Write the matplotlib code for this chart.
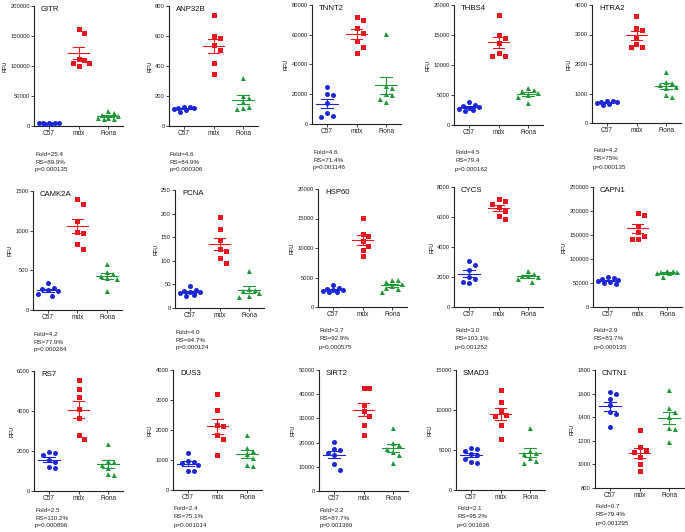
import matplotlib
matplotlib.use('Agg')
import matplotlib.pyplot as plt
import numpy as np

plt.rcParams['font.family'] = ['Liberation Sans', 'DejaVu Sans']

groups = ['C57', 'mdx', 'Fiona']
genes = ['GITR', 'ANP32B', 'TNNT2', 'THBS4', 'HTRA2',
         'CAMK2A', 'PCNA', 'HSP60', 'CYCS', 'CAPN1',
         'RS7', 'DUS3', 'SIRT2', 'SMAD3', 'CNTN1']

fold = ['25.4', '4.6', '4.6', '4.5', '4.2', '4.2', '4.0', '3.7', '3.0', '2.9',
        '2.5', '2.4', '2.2', '2.1', '0.7']
rs = ['89.9%', '84.9%', '71.4%', '79.4', '75%', '77.9%', '94.7%', '92.9%', '103.1%', '83.7%',
      '110.2%', '75.1%', '87.7%', '95.2%', '79.4%']
pvals = ['0.000135', '0.000306', '0.001146', '0.000162', '0.000135', '0.000264', '0.000124',
         '0.000575', '0.001252', '0.000135', '0.000896', '0.001014', '0.001369', '0.001636',
         '0.001295']

yticks_all = [
    [0, 50000, 100000, 150000, 200000],
    [0, 200, 400, 600, 800],
    [0, 20000, 40000, 60000, 80000],
    [0, 5000, 10000, 15000, 20000],
    [0, 1000, 2000, 3000, 4000],
    [0, 500, 1000, 1500],
    [0, 50, 100, 150, 200, 250],
    [0, 5000, 10000, 15000, 20000],
    [0, 2000, 4000, 6000, 8000],
    [0, 50000, 100000, 150000, 200000, 250000],
    [0, 2000, 4000, 6000],
    [0, 1000, 2000, 3000, 4000],
    [0, 10000, 20000, 30000, 40000, 50000],
    [0, 5000, 10000, 15000],
    [800, 1000, 1200, 1400, 1600, 1800],
]

gitr_c57 = [4000, 5200, 4500, 5600, 3900, 4800, 5400]
gitr_mdx = [155600, 161000, 111700, 110600, 105600, 105000, 99400]
gitr_fiona = [25000, 21000, 19000, 17000, 14000, 12000, 11000, 13000]

anp32b_c57 = [130, 125, 120, 118, 112, 110, 95]
anp32b_mdx = [738, 598, 587, 537, 508, 417, 346]
anp32b_fiona = [322, 200, 190, 160, 130, 118, 113]

tnnt2_c57 = [24700, 20300, 19600, 14000, 7350, 5100, 4900]
tnnt2_mdx = [72000, 69750, 64850, 61500, 55900, 51900, 47460]
tnnt2_fiona = [60400, 25600, 24200, 20500, 19800, 17000, 14500]

thbs4_c57 = [3800, 3400, 3200, 3000, 2900, 2700, 2500, 2300]
thbs4_mdx = [18340, 15070, 14510, 13630, 12080, 11580, 11520]
thbs4_fiona = [6200, 5900, 5600, 5400, 5000, 4700, 3600]

htra2_c57 = [760, 740, 720, 700, 680, 650, 620]
htra2_mdx = [3618, 3225, 3146, 2921, 2685, 2584, 2584]
htra2_fiona = [1740, 1390, 1350, 1300, 1210, 1180, 950, 880]

camk2a_c57 = [340, 275, 265, 255, 240, 205, 180]
camk2a_mdx = [1395, 1341, 1123, 985, 972, 838, 775]
camk2a_fiona = [574, 480, 450, 430, 400, 390, 243]

pcna_c57 = [47, 38, 36, 34, 33, 31, 28, 25]
pcna_mdx = [192, 167, 144, 124, 121, 105, 95]
pcna_fiona = [79, 40, 38, 35, 31, 25, 24]

hsp60_c57 = [3800, 3300, 3100, 2900, 2800, 2700, 2600, 2500]
hsp60_mdx = [15140, 12320, 11980, 11190, 10280, 9720, 8590]
hsp60_fiona = [4600, 4500, 4300, 3900, 3500, 3200, 3000, 2600]

cycs_c57 = [3100, 2800, 2450, 2000, 1900, 1650, 1600]
cycs_mdx = [7200, 7100, 6900, 6700, 6400, 6100, 5900]
cycs_fiona = [2400, 2200, 2100, 2050, 2000, 1900, 1700]

capn1_c57 = [62000, 60000, 58000, 56000, 55000, 52000, 50000, 47000]
capn1_mdx = [195500, 192700, 169700, 157100, 148000, 141000, 141000]
capn1_fiona = [76000, 74000, 73000, 72000, 71000, 70000, 63000]

rs7_c57 = [1950, 1900, 1780, 1550, 1450, 1200, 1150]
rs7_mdx = [5550, 5083, 4683, 4083, 3633, 2800, 2583]
rs7_fiona = [2350, 1500, 1450, 1300, 1150, 850, 800]

dus3_c57 = [1230, 980, 930, 900, 850, 650, 620]
dus3_mdx = [3200, 2678, 2156, 2122, 1844, 1711, 1156]
dus3_fiona = [1820, 1400, 1310, 1200, 1070, 820, 810]

sirt2_c57 = [20200, 17400, 16800, 15500, 14900, 11000, 8700]
sirt2_mdx = [42540, 42540, 35640, 32870, 30800, 27350, 23200]
sirt2_fiona = [26000, 19800, 19000, 17500, 16300, 14900, 11500]

smad3_c57 = [5300, 5150, 4850, 4500, 4400, 3900, 3500, 3350]
smad3_mdx = [12540, 11000, 9833, 9417, 9292, 8167, 6417]
smad3_fiona = [7750, 4900, 4600, 4500, 4000, 3600, 3400]

cntn1_c57 = [1610, 1595, 1555, 1500, 1440, 1430, 1315]
cntn1_mdx = [1289, 1147, 1119, 1105, 1063, 1006, 944]
cntn1_fiona = [1628, 1478, 1444, 1402, 1308, 1303, 1190]

values_all = [
    (gitr_c57, gitr_mdx, gitr_fiona),
    (anp32b_c57, anp32b_mdx, anp32b_fiona),
    (tnnt2_c57, tnnt2_mdx, tnnt2_fiona),
    (thbs4_c57, thbs4_mdx, thbs4_fiona),
    (htra2_c57, htra2_mdx, htra2_fiona),
    (camk2a_c57, camk2a_mdx, camk2a_fiona),
    (pcna_c57, pcna_mdx, pcna_fiona),
    (hsp60_c57, hsp60_mdx, hsp60_fiona),
    (cycs_c57, cycs_mdx, cycs_fiona),
    (capn1_c57, capn1_mdx, capn1_fiona),
    (rs7_c57, rs7_mdx, rs7_fiona),
    (dus3_c57, dus3_mdx, dus3_fiona),
    (sirt2_c57, sirt2_mdx, sirt2_fiona),
    (smad3_c57, smad3_mdx, smad3_fiona),
    (cntn1_c57, cntn1_mdx, cntn1_fiona),
]

# ---- layout (pixels) ----
W, H = 685, 532
AXW = 89
panel_px = [(34, 6, 126), (169, 6, 126), (312, 5, 124), (454, 5, 125), (592, 5, 123),
            (33, 191, 310), (175, 190, 308), (318, 189, 307), (454, 187, 307), (593, 187, 307),
            (34, 371, 491), (173, 370, 490), (319, 370, 491), (456, 370, 490), (595, 370, 488)]
note_offset = [28, 28, 28, 28, 28, 24, 24, 24, 24, 24, 19, 19, 19, 19, 19]

colors = ['#1c28d8', '#e8161e', '#22973a']
markers = ['o', 's', '^']
MS = 3.6
GRID = 2.0
BOXX = 5.0
BOXY = 6.0
KMAX = 5

fig = plt.figure(figsize=(W / 100, H / 100), dpi=100)


def swarm_x(ax, vals, center):
    vals = np.asarray(vals, dtype=float)
    pts = ax.transData.transform(np.column_stack([np.full(len(vals), center), vals]))
    xc = pts[0, 0]
    ys = pts[:, 1]
    order = np.argsort(-vals)
    placed = []
    xs = np.zeros(len(vals))
    cands = [0]
    for k in range(1, KMAX + 1):
        cands += [k, -k]
    for idx in order:
        y = ys[idx]
        best, best_score = None, None
        for k in cands:
            x = xc + k * GRID
            score = sum(max(0.0, BOXX - abs(x - px)) * max(0.0, BOXY - abs(y - py))
                        for px, py in placed)
            if best_score is None or score < best_score - 1e-9:
                best, best_score = x, score
            if score == 0:
                break
        placed.append((best, y))
        xs[idx] = best
    inv = ax.transData.inverted()
    return inv.transform(np.column_stack([xs, ys]))[:, 0]


for i, gene in enumerate(genes):
    sx, yt, y0 = panel_px[i]
    ax = fig.add_axes([sx / W, 1 - y0 / H, AXW / W, (y0 - yt) / H])
    ticks = yticks_all[i]
    ax.set_xlim(-0.5, 2.5)
    ax.set_ylim(ticks[0], ticks[-1])
    ax.set_yticks(ticks)
    ax.set_yticklabels([str(t) for t in ticks], fontsize=4.2)
    ax.set_xticks([0, 1, 2])
    ax.set_xticklabels(groups, fontsize=4.7)
    for s in ['top', 'right']:
        ax.spines[s].set_visible(False)
    for s in ['left', 'bottom']:
        ax.spines[s].set_linewidth(0.8)
        ax.spines[s].set_color('#222222')
    ax.tick_params(axis='both', length=2, width=0.6, pad=1, colors='#222222')
    ax.set_ylabel('RFU', fontsize=4.0, labelpad=2)
    ax.patch.set_alpha(0)

    for g in range(3):
        vals = values_all[i][g]
        xs = swarm_x(ax, vals, g)
        ax.plot(xs, vals, linestyle='none', marker=markers[g], markersize=MS,
                color=colors[g], markeredgewidth=0, zorder=3, clip_on=False)
        m = np.mean(vals)
        sem = np.std(vals, ddof=1) / np.sqrt(len(vals))
        ax.plot([g - 0.37, g + 0.37], [m, m], color=colors[g], lw=0.8, zorder=4)
        ax.plot([g, g], [m - sem, m + sem], color=colors[g], lw=0.8, zorder=4)
        for yy in (m - sem, m + sem):
            ax.plot([g - 0.2, g + 0.2], [yy, yy], color=colors[g], lw=0.8, zorder=4)

    ax.annotate(gene, xy=(0, 1), xycoords='axes fraction', xytext=(5, 0),
                textcoords='offset points', va='top', ha='left', fontsize=5.6,
                color='#111111')

    ty = y0 + note_offset[i]
    lines = ['Fold=' + fold[i], 'RS=' + rs[i], 'p=' + pvals[i]]
    for j, ln in enumerate(lines):
        fig.text((sx + 1) / W, 1 - (ty + 8 * j) / H, ln, fontsize=4.5,
                 va='center', ha='left', color='#222222')

fig.savefig('out.png', dpi=100)
